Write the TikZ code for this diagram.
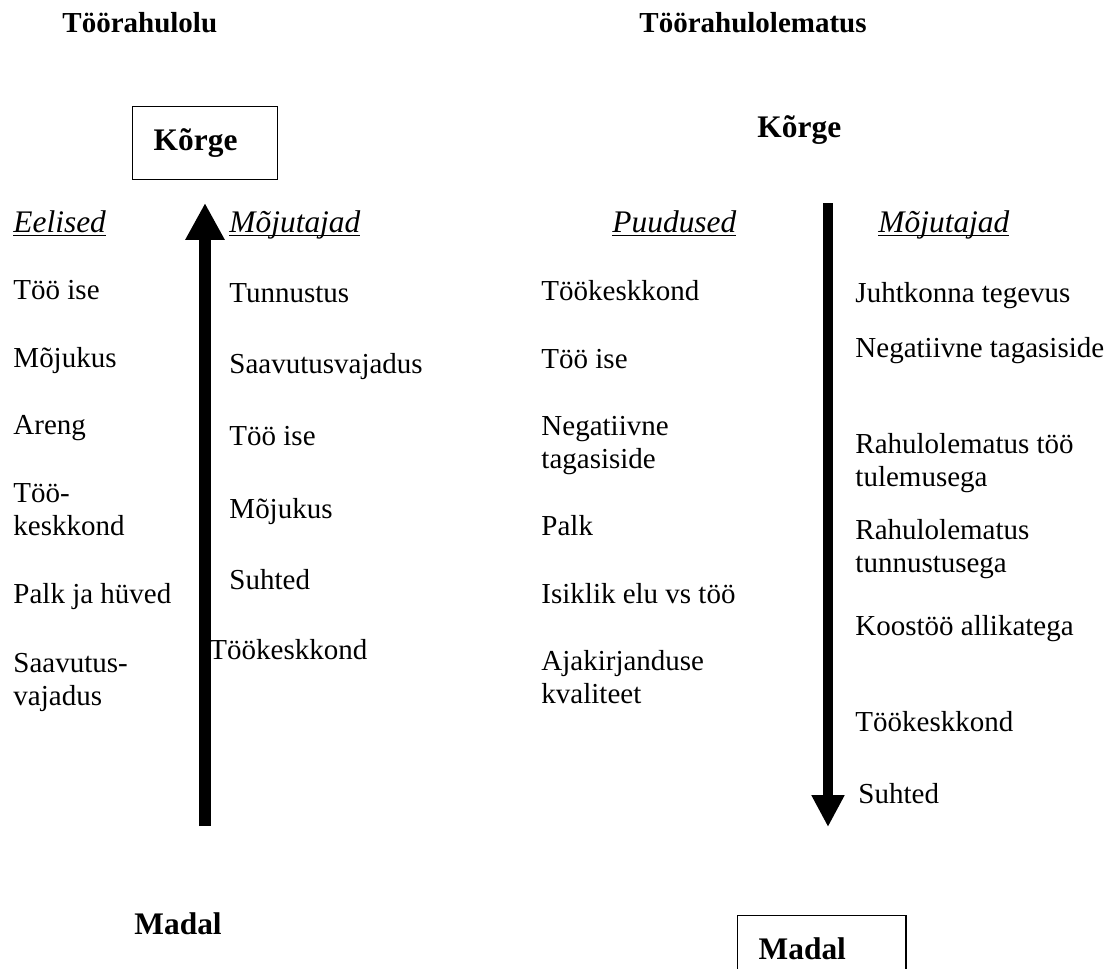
\documentclass[tikz,border=0pt]{standalone}
\usepackage{fontspec}
\setmainfont{Liberation Serif}
\usepackage{tikz}
\usetikzlibrary{arrows.meta, positioning}

\newcommand{\ulhead}[1]{\underline{\smash{#1}}}
\newcommand{\twolines}[2]{\begin{tabular}[t]{@{}l@{}}#1\\#2\end{tabular}}

\tikzset{
  listitem/.style={anchor=base west, inner sep=0pt, font=\fontsize{12}{13.8}\selectfont},
  sidetitle/.style={anchor=base west, inner sep=0pt, font=\fontsize{12}{14}\selectfont\bfseries},
  levelname/.style={anchor=base west, inner sep=0pt, font=\fontsize{13}{15}\selectfont\bfseries},
  levelbox/.style={draw, line width=0.6pt, anchor=north west, inner xsep=8.7pt, inner ysep=0pt,
    align=left, font=\fontsize{13}{15}\selectfont\bfseries},
  colhead/.style={anchor=base west, inner sep=0pt, font=\fontsize{13}{15}\selectfont\itshape}
}

\begin{document}
\begin{tikzpicture}[x=0.414pt, y=-0.414pt]
    % Page frame
    \useasboundingbox (0,0) rectangle (1115,968);
    \clip (0,0) rectangle (1115,968);

    % Titles
    \node[sidetitle] (tsat) at (62,32) {Töörahulolu};
    \node[sidetitle] (tdis) at (639,32) {Töörahulolematus};

    % High / low levels
    \node[levelbox, text width=42.6pt, minimum height=30.2pt] (hiL) at (132,106) {Kõrge};
    \node[levelname] (hiR) at (757,137) {Kõrge};
    \node[levelname] (loL) at (134,934) {Madal};
    \node[levelbox, text width=52.2pt, minimum height=27.3pt] (loR) at (737,915) {Madal};

    % Column headings
    \node[colhead] (hEel) at (13,232) {\ulhead{Eelised}};
    \node[colhead] (hMoL) at (229,232) {\ulhead{Mõjutajad}};
    \node[colhead] (hPuu) at (612,232) {\ulhead{Puudused}};
    \node[colhead] (hMoR) at (878,232) {\ulhead{Mõjutajad}};

    % Satisfaction: advantages
    \foreach \y/\txt [count=\i] in {299/Töö ise, 367/Mõjukus, 434/Areng,
        502/{\twolines{Töö-}{keskkond}}, 603/Palk ja hüved, 672/{\twolines{Saavutus-}{vajadus}}} {
        \node[listitem] (eel\i) at (13,\y) {\txt};
    }

    % Satisfaction: factors
    \foreach \y/\txt [count=\i] in {302/Tunnustus, 373/Saavutusvajadus, 445/Töö ise,
        518/Mõjukus, 589/Suhted} {
        \node[listitem] (moL\i) at (229,\y) {\txt};
    }
    \node[listitem] (moL6) at (209,659) {Töökeskkond};

    % Dissatisfaction: shortcomings
    \foreach \y/\txt [count=\i] in {300/Töökeskkond, 368/Töö ise, 435/{\twolines{Negatiivne}{tagasiside}},
        535/Palk, 603/Isiklik elu vs töö, 670/{\twolines{Ajakirjanduse}{kvaliteet}}} {
        \node[listitem] (puu\i) at (541,\y) {\txt};
    }

    % Dissatisfaction: factors
    \foreach \y/\txt [count=\i] in {302/Juhtkonna tegevus, 357/Negatiivne tagasiside,
        453/{\twolines{Rahulolematus töö}{tulemusega}}, 539/{\twolines{Rahulolematus}{tunnustusega}},
        635/Koostöö allikatega, 731/Töökeskkond} {
        \node[listitem] (moR\i) at (855,\y) {\txt};
    }
    \node[listitem] (moR7) at (858,803) {Suhted};

    % Arrows
    \coordinate (upbot) at (205,826);
    \coordinate (uptop) at (205,203);
    \coordinate (dntop) at (828,203);
    \coordinate (dnbot) at (828,827);
    \draw[line width=5pt, -{Triangle[width=15.3pt, length=15.3pt]}] (upbot) -- (uptop);
    \draw[line width=4.1pt, -{Triangle[width=12.8pt, length=13.2pt]}] (dntop) -- (dnbot);
\end{tikzpicture}
\end{document}
